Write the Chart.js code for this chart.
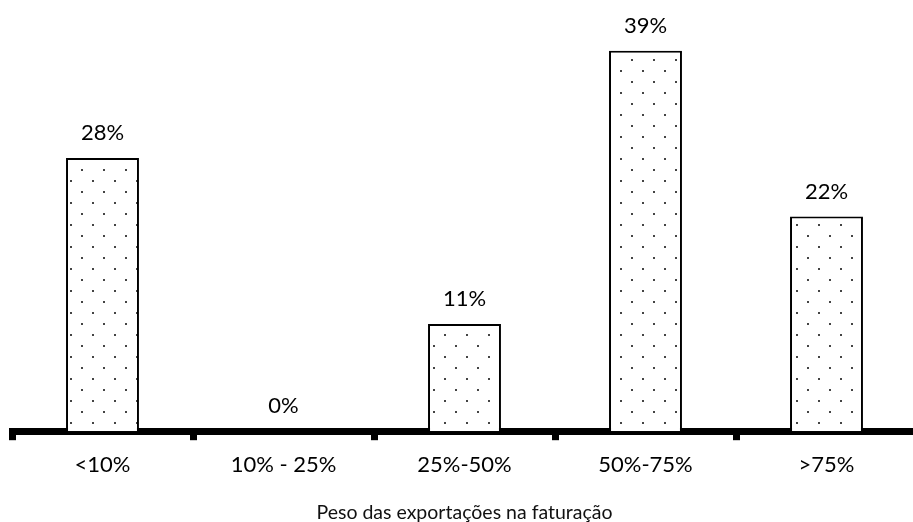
<!DOCTYPE html>
<html>
<head>
<meta charset="utf-8">
<script src="https://cdn.jsdelivr.net/npm/chart.js@4/dist/chart.umd.min.js"></script>
<style>
  html, body { margin: 0; padding: 0; overflow: hidden; background: #fff; }
  #wrap { width: 917px; height: 522px; position: relative; }
</style>
</head>
<body>
<div id="wrap"><canvas id="c"></canvas></div>
<script>
// Share of companies by weight of exports in turnover
const categories = ['<10%', '10% - 25%', '25%-50%', '50%-75%', '>75%'];
const shares = [28, 0, 11, 39, 22];
const axisTitle = 'Peso das exportações na faturação';

const FONT = 'Lato, "Open Sans", sans-serif';

// Dotted fill used inside the bars
function dotPattern() {
  const p = document.createElement('canvas');
  p.width = 22; p.height = 22;
  const g = p.getContext('2d');
  g.fillStyle = '#fff';
  g.fillRect(0, 0, 22, 22);
  g.fillStyle = '#444';
  g.fillRect(4, 4, 2, 2);
  g.fillRect(15, 15, 2, 2);
  return g.createPattern(p, 'repeat');
}

// Percent labels above each bar
const valueLabels = {
  id: 'valueLabels',
  afterDatasetsDraw(chart) {
    const ctx = chart.ctx;
    const meta = chart.getDatasetMeta(0);
    ctx.save();
    ctx.font = '22px ' + FONT;
    ctx.fillStyle = '#000';
    ctx.textAlign = 'center';
    ctx.textBaseline = 'middle';
    meta.data.forEach((bar, i) => {
      ctx.fillText(shares[i] + '%', bar.x, bar.y - 25);
    });
    ctx.restore();
  }
};

new Chart(document.getElementById('c'), {
  type: 'bar',
  data: {
    labels: categories,
    datasets: [{
      data: shares,
      backgroundColor: dotPattern(),
      borderColor: '#000',
      borderWidth: 2,
      borderSkipped: 'bottom',
      barPercentage: 0.403,
      categoryPercentage: 1
    }]
  },
  options: {
    responsive: true,
    maintainAspectRatio: false,
    animation: false,
    layout: { padding: { left: 12, right: 0, top: 2, bottom: -2 } },
    plugins: {
      legend: { display: false },
      tooltip: { enabled: false }
    },
    scales: {
      y: { display: false, min: 0, max: 44 },
      x: {
        border: { display: true, width: 7, color: '#000' },
        grid: {
          display: true,
          drawOnChartArea: false,
          offset: true,
          lineWidth: 7,
          tickLength: 9,
          color: '#000'
        },
        ticks: {
          font: { family: FONT, size: 22 },
          color: '#000',
          padding: 12,
          maxRotation: 0
        },
        title: {
          display: true,
          text: axisTitle,
          font: { family: FONT, size: 19.5 },
          color: '#111',
          padding: { top: 10, bottom: 0 }
        }
      }
    }
  },
  plugins: [valueLabels]
});
</script>
</body>
</html>
